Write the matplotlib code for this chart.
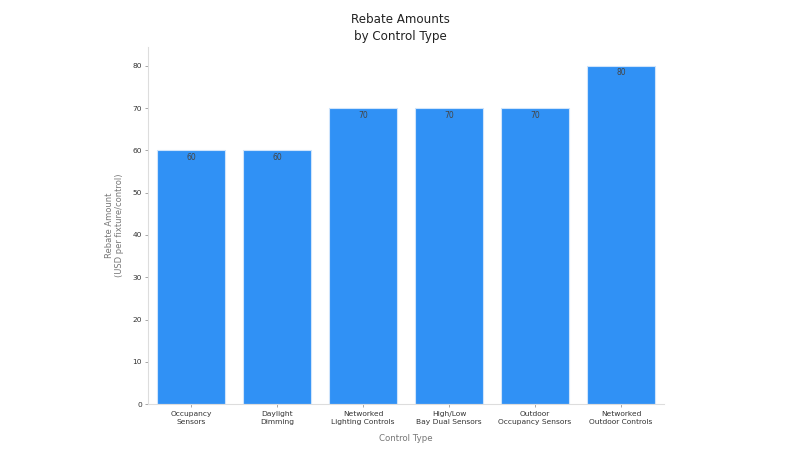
import matplotlib
matplotlib.use("Agg")
import matplotlib.pyplot as plt

categories = ["Occupancy\nSensors", "Daylight\nDimming", "Networked\nLighting Controls",
              "High/Low\nBay Dual Sensors", "Outdoor\nOccupancy Sensors", "Networked\nOutdoor Controls"]
rebates = [60, 60, 70, 70, 70, 80]
yticks = [0, 10, 20, 30, 40, 50, 60, 70, 80]

fig = plt.figure(figsize=(8, 4.5), dpi=100)
ax = fig.add_axes([0.185, 0.102, 0.645, 0.794])

x = range(len(categories))
bars = ax.bar(x, rebates, width=0.8, color="#3091f5", edgecolor="#cfe4fb", linewidth=0.8)
for xi, v in zip(x, rebates):
    ax.text(xi, v - 0.6, str(v), ha="center", va="top", fontsize=5.5, color="#444444")

ax.set_xlim(-0.5, 5.5)
ax.set_ylim(0, 84.5)
ax.set_yticks(yticks)
ax.set_xticks(list(x))
ax.set_xticklabels(categories, fontsize=5.4, color="#333333", linespacing=1.45)
ax.tick_params(axis="y", labelsize=5.4, labelcolor="#333333", length=2.5, color="#999999", width=0.6, pad=2)
ax.tick_params(axis="x", length=2.5, color="#999999", width=0.6, pad=2.5)

for s in ["top", "right"]:
    ax.spines[s].set_visible(False)
for s in ["left", "bottom"]:
    ax.spines[s].set_color("#dddddd")
    ax.spines[s].set_linewidth(0.8)

ax.set_xlabel("Control Type", fontsize=6.2, color="#777777", labelpad=6)
ax.set_ylabel("Rebate Amount\n(USD per fixture/control)", fontsize=6, color="#777777", labelpad=6)
fig.text(0.5, 0.896 + 0.009, "Rebate Amounts\nby Control Type", ha="center", va="bottom",
         fontsize=8.6, color="#222222", linespacing=1.4)

fig.savefig("out.png", dpi=100)
